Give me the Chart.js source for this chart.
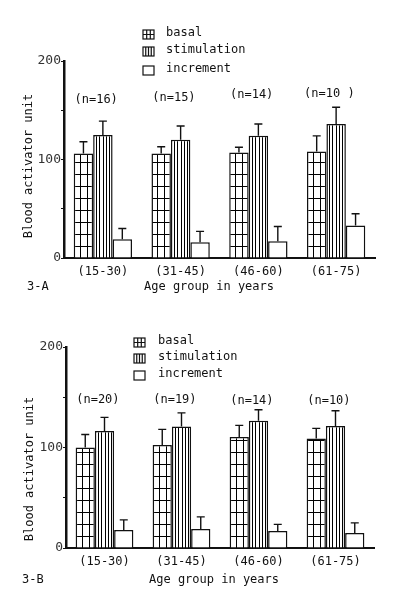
<!DOCTYPE html>
<html><head><meta charset="utf-8">
<script src="https://cdn.jsdelivr.net/npm/chart.js@4.4.0/dist/chart.umd.min.js"></script>
<style>
html,body{margin:0;padding:0;background:#fff;}
canvas{position:absolute;left:0;}
#cA{top:0}
#cB{top:300px}
</style></head><body>
<canvas id="cA" width="411" height="300"></canvas>
<canvas id="cB" width="411" height="299"></canvas>
<script>
// ---------- data ----------
const ageGroups = ['(15-30)', '(31-45)', '(46-60)', '(61-75)'];
const seriesNames = ['basal', 'stimulation', 'increment'];
const yTicks = [0, 50, 100, 150, 200];
const yLabelled = [0, 100, 200];

// Panel 3-A
const basalA = [106, 106, 107, 108];
const basalErrA = [12, 7, 5.5, 16];
const stimA = [125, 120, 124, 136];
const stimErrA = [14, 14, 12, 17];
const incrA = [19, 16, 17, 33];
const incrErrA = [11, 11, 15, 12];
const nA = ['(n=16)', '(n=15)', '(n=14)', '(n=10 )'];

// Panel 3-B
const basalB = [100, 102.5, 110.5, 109];
const basalErrB = [13, 15.5, 11.5, 10];
const stimB = [116.5, 121, 126.5, 121.5];
const stimErrB = [13.5, 13.5, 11, 15];
const incrB = [18, 19, 17, 15];
const incrErrB = [10, 12, 6.5, 10];
const nB = ['(n=20)', '(n=19)', '(n=14)', '(n=10)'];

// ---------- styling ----------
const MONO = '"DejaVu Sans Mono", "Liberation Mono", monospace';
const INK = '#111';
const KINDS = ['grid', 'stripe', 'plain'];
const CAT_PCT = 0.75;

function makeTile(kind, w) {
  const W = Math.max(6, Math.round(w));
  const tile = document.createElement('canvas');
  tile.width = W; tile.height = 12;
  const t = tile.getContext('2d');
  t.fillStyle = '#fff'; t.fillRect(0, 0, W, 12);
  t.fillStyle = '#000';
  if (kind === 'grid') {
    t.fillRect(Math.round(W / 3), 0, 1, 12);
    t.fillRect(Math.round(2 * W / 3), 0, 1, 12);
    t.fillRect(0, 0, W, 1);
  } else {
    for (let k = 1; k <= 5; k++) t.fillRect(Math.round(k * W / 6), 0, 1, 12);
  }
  return tile;
}

function barFill(ctx) {
  const kind = KINDS[ctx.datasetIndex];
  if (kind === 'plain') return '#fff';
  const chart = ctx.chart;
  const xs = chart.scales && chart.scales.x, ys = chart.scales && chart.scales.y;
  let left = 0, bottom = 0, w = 19;
  if (xs && ys && ctx.dataIndex !== undefined && xs.width > 0) {
    const cat = xs.width / ageGroups.length;
    const gw = cat * CAT_PCT, bw = gw / 3;
    left = xs.getPixelForValue(ctx.dataIndex) - gw / 2 + ctx.datasetIndex * bw;
    bottom = ys.getPixelForValue(0);
    w = bw;
  }
  const p = chart.ctx.createPattern(makeTile(kind, w), 'repeat');
  if (p.setTransform) p.setTransform(new DOMMatrix().translate(Math.round(left), Math.round(bottom)));
  return p;
}

const decoPlugin = {
  id: 'deco',
  afterDatasetsDraw(chart, args, o) {
    const c = chart.ctx;
    const ys = chart.scales.y;
    // error bars
    c.save();
    c.strokeStyle = INK; c.lineWidth = 1.4;
    o.errors.forEach((errs, di) => {
      const meta = chart.getDatasetMeta(di);
      const vals = chart.data.datasets[di].data;
      meta.data.forEach((bar, j) => {
        const yTop = ys.getPixelForValue(vals[j] + errs[j]);
        c.beginPath();
        c.moveTo(bar.x, bar.y); c.lineTo(bar.x, yTop);
        c.moveTo(bar.x - 4, yTop); c.lineTo(bar.x + 4, yTop);
        c.stroke();
      });
    });
    c.restore();
  },
  afterDraw(chart, args, o) {
    const c = chart.ctx;
    const xs = chart.scales.x;
    c.save();
    c.fillStyle = INK;
    c.font = '12px ' + MONO;
    c.textBaseline = 'middle';
    // n labels
    c.textAlign = 'center';
    const gw = xs.width / ageGroups.length * CAT_PCT;
    o.nLabels.forEach((s, j) => {
      const x = xs.getPixelForValue(j) - gw / 6 + 3;
      c.fillText(s, x, o.nY[j]);
    });
    // axis titles
    c.fillText('Age group in years', o.xTitle[0], o.xTitle[1]);
    c.textAlign = 'left';
    c.fillText(o.panel, o.panelPos[0], o.panelPos[1]);
    c.save();
    c.translate(o.yTitle[0], o.yTitle[1]);
    c.rotate(-Math.PI / 2);
    c.textAlign = 'center';
    c.fillText('Blood activator unit', 0, 0);
    c.restore();
    // legend
    const L = o.legend;
    seriesNames.forEach((name, i) => {
      const cy = L.rows[i];
      const bx = L.boxX, by = cy - 4, bw = 11, bh = 9;
      c.fillStyle = '#fff'; c.fillRect(bx, by, bw, bh);
      c.strokeStyle = INK; c.lineWidth = 1.2;
      c.beginPath();
      if (KINDS[i] === 'grid') {
        c.moveTo(bx + 3.7, by); c.lineTo(bx + 3.7, by + bh);
        c.moveTo(bx + 7.3, by); c.lineTo(bx + 7.3, by + bh);
        c.moveTo(bx, by + bh / 2); c.lineTo(bx + bw, by + bh / 2);
      } else if (KINDS[i] === 'stripe') {
        for (let k = 1; k <= 3; k++) { c.moveTo(bx + k * bw / 4, by); c.lineTo(bx + k * bw / 4, by + bh); }
      }
      c.stroke();
      c.strokeRect(bx, by, bw, bh);
      c.fillStyle = INK;
      c.fillText(name, L.textX, L.rows[i] - 1);
    });
    c.restore();
  }
};

function makeChart(id, vals, errs, nLabels, cfg) {
  return new Chart(document.getElementById(id), {
    type: 'bar',
    data: {
      labels: ageGroups,
      datasets: seriesNames.map((name, i) => ({
        label: name,
        data: vals[i],
        backgroundColor: barFill,
        borderColor: INK,
        borderWidth: 1.5,
        barPercentage: 1,
        categoryPercentage: CAT_PCT
      }))
    },
    options: {
      responsive: false,
      devicePixelRatio: 1,
      animation: false,
      events: [],
      layout: { padding: { left: 0, top: cfg.top, right: cfg.right, bottom: 0 } },
      plugins: {
        legend: { display: false },
        tooltip: { enabled: false },
        deco: {
          errors: errs, nLabels: nLabels, nY: cfg.nY,
          xTitle: cfg.xTitle, yTitle: cfg.yTitle,
          panel: cfg.panel, panelPos: cfg.panelPos,
          legend: cfg.legend
        }
      },
      scales: {
        x: {
          grid: { display: false, drawTicks: false },
          border: { display: true, color: INK, width: 2 },
          ticks: { font: { family: MONO, size: 12 }, color: INK, padding: 7, maxRotation: 0 },
          afterFit: s => { s.height = cfg.xH; }
        },
        y: {
          min: 0, max: 200,
          afterBuildTicks: s => { s.ticks = yTicks.map(v => ({ value: v })); },
          grid: { display: true, drawOnChartArea: false, drawTicks: true, tickLength: 3, color: INK, lineWidth: 1 },
          border: { display: true, color: INK, width: 2.5 },
          ticks: {
            font: { family: MONO, size: 13 }, color: '#333', padding: 0,
            callback: v => (yLabelled.includes(v) ? String(v) : '')
          },
          afterFit: s => { s.width = cfg.yW; }
        }
      }
    },
    plugins: [decoPlugin]
  });
}

makeChart('cA', [basalA, stimA, incrA], [basalErrA, stimErrA, incrErrA], nA, {
  top: 61, right: 36, xH: 42, yW: 64,
  nY: [100, 98, 95, 94],
  xTitle: [209, 287], yTitle: [29, 166], panel: '3-A', panelPos: [27, 287],
  legend: { boxX: 143, textX: 166, rows: [34, 51, 70] }
});

makeChart('cB', [basalB, stimB, incrB], [basalErrB, stimErrB, incrErrB], nB, {
  top: 47, right: 37, xH: 51, yW: 66,
  nY: [100, 100, 101, 101],
  xTitle: [214, 280], yTitle: [30, 169], panel: '3-B', panelPos: [22, 280],
  legend: { boxX: 134, textX: 158, rows: [42, 58, 75] }
});
</script>
</body></html>
